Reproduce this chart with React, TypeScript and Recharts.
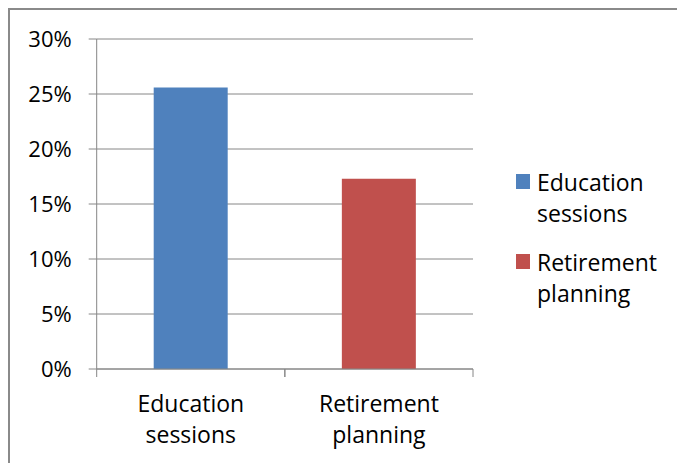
import React from "react";
import { BarChart, Bar, Cell, XAxis, YAxis, CartesianGrid, Legend } from "recharts";

const categories = ["Education sessions", "Retirement planning"];
const shares = [0.256, 0.173];
const yTicks = [0, 0.05, 0.1, 0.15, 0.2, 0.25, 0.3];

const COLORS = ["#4F81BD", "#C0504D"];
const FONT = "'Open Sans', sans-serif";
const FS = 23;
const GRAY = "#868686";

const data = categories.map((name, i) => ({ name, value: shares[i] }));

const CatTick = (props: any) => {
  const { x, y, payload } = props;
  const half = Number(payload.offset) || 0;
  const words = String(payload.value).split(" ");
  return (
    <g>
      <line x1={x - half} x2={x - half} y1={y} y2={y + 8} stroke={GRAY} />
      <line x1={x + half} x2={x + half} y1={y} y2={y + 8} stroke={GRAY} />
      <text x={x} y={y} textAnchor="middle" fill="#000" fontSize={FS} fontFamily={FONT}>
        {words.map((w, i) => (
          <tspan key={i} x={x} dy={i === 0 ? 43 : 31}>
            {w}
          </tspan>
        ))}
      </text>
    </g>
  );
};

const LegendContent = () => (
  <div style={{ fontFamily: FONT, fontSize: FS, color: "#000", lineHeight: "31px" }}>
    {categories.map((c, i) => (
      <div key={c} style={{ display: "flex", alignItems: "flex-start", marginBottom: i === 0 ? 18 : 0 }}>
        <div style={{ width: 14, height: 15, background: COLORS[i], marginTop: 7, marginRight: 7, flex: "none" }} />
        <div style={{ width: 130 }}>{c}</div>
      </div>
    ))}
  </div>
);

export default function App() {
  return (
    <div
      style={{
        position: "fixed",
        left: 8,
        top: 8,
        width: 680,
        height: 460,
        borderTop: "2px solid #8a8a8a",
        borderLeft: "2px solid #8a8a8a",
        background: "#fff",
        overflow: "hidden",
      }}
    >
      <BarChart
        width={680}
        height={453}
        data={data}
        margin={{ top: 29, right: 217, left: 0, bottom: 0 }}
      >
        <CartesianGrid vertical={false} stroke={GRAY} strokeWidth={1} />
        <XAxis
          dataKey="name"
          height={94}
          axisLine={{ stroke: GRAY }}
          tickLine={false}
          tickSize={0}
          tickMargin={0}
          tick={<CatTick />}
          interval={0}
        />
        <YAxis
          width={86.7}
          domain={[0, 0.3]}
          ticks={yTicks}
          tickFormatter={(v: number) => `${Math.round(v * 100)}%`}
          tickSize={8}
          tickMargin={17}
          stroke={GRAY}
          axisLine={{ stroke: GRAY }}
          tickLine={{ stroke: GRAY }}
          tick={{ fill: "#000", fontSize: 22, fontFamily: FONT }}
          allowDataOverflow
        />
        <Legend
          layout="vertical"
          align="center"
          verticalAlign="middle"
          content={<LegendContent />}
          wrapperStyle={{ left: 506, top: 157, width: 160 }}
        />
        <Bar dataKey="value" barSize={74} isAnimationActive={false}>
          {data.map((d, i) => (
            <Cell key={d.name} fill={COLORS[i]} />
          ))}
        </Bar>
      </BarChart>
    </div>
  );
}
